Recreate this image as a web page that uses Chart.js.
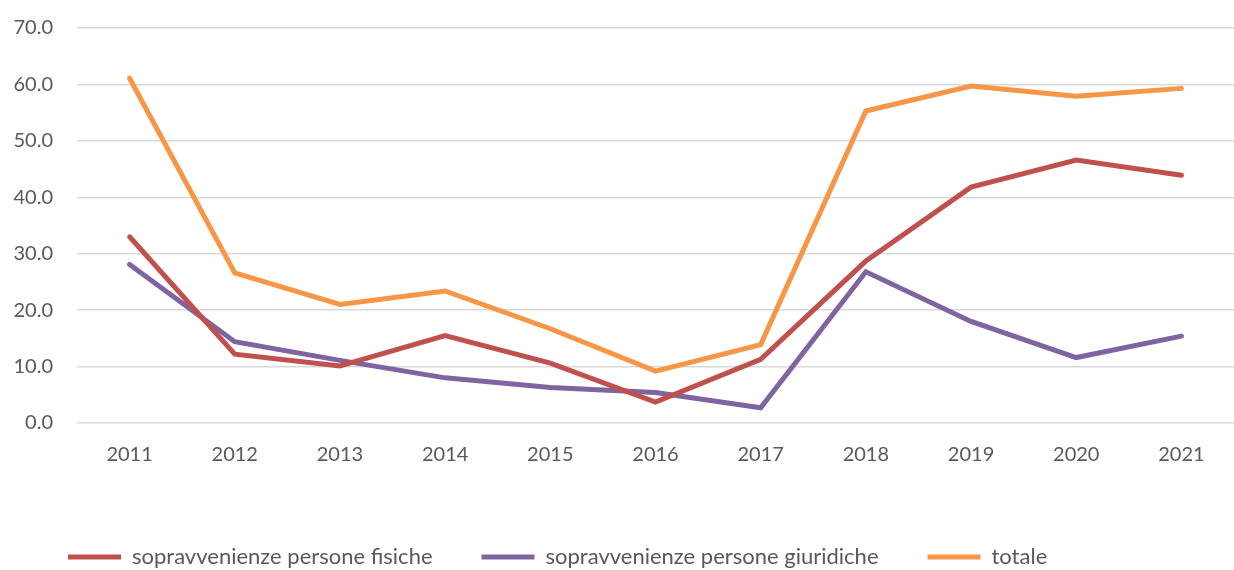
<!DOCTYPE html>
<html>
<head>
<meta charset="utf-8">
<script src="https://cdn.jsdelivr.net/npm/chart.js@4/dist/chart.umd.min.js"></script>
<style>
  html, body { margin: 0; padding: 0; background: #fff; }
  #wrap { width: 1234px; height: 570px; }
</style>
</head>
<body>
<div id="wrap"><canvas id="chart"></canvas></div>
<script>
// anni e serie
const years = ["2011","2012","2013","2014","2015","2016","2017","2018","2019","2020","2021"];
const fisiche = [33.0, 12.2, 10.1, 15.5, 10.6, 3.7, 11.3, 28.7, 41.8, 46.6, 43.9];
const giuridiche = [28.1, 14.4, 11.1, 8.0, 6.3, 5.4, 2.7, 26.8, 18.0, 11.6, 15.4];
const totale = [61.1, 26.6, 21.0, 23.4, 16.7, 9.2, 13.9, 55.3, 59.7, 57.9, 59.3];

const txt = "#595959";
const font = { family: "Lato, 'Open Sans', sans-serif", size: 20 };
const legendFont = { family: "Lato, 'Open Sans', sans-serif", size: 22 };

function serie(label, data, color) {
  return {
    label, data,
    borderColor: color,
    backgroundColor: color,
    borderWidth: 5,
    pointRadius: 0,
    tension: 0,
    borderCapStyle: "round",
    borderJoinStyle: "miter"
  };
}

new Chart(document.getElementById("chart"), {
  type: "line",
  data: {
    labels: years,
    datasets: [
      serie("sopravvenienze persone fisiche", fisiche, "#C0504D"),
      serie("sopravvenienze persone giuridiche", giuridiche, "#8064A2"),
      serie("totale", totale, "#F79646")
    ]
  },
  options: {
    responsive: true,
    maintainAspectRatio: false,
    animation: false,
    layout: { padding: { top: 28, right: 0, left: 0, bottom: 0 } },
    plugins: {
      tooltip: { enabled: false },
      legend: {
        position: "bottom",
        align: "start",
        labels: {
          color: txt,
          font: legendFont,
          boxWidth: 53,
          boxHeight: 5,
          padding: 49,
          generateLabels(chart) {
            return chart.data.datasets.map((ds, i) => ({
              text: ds.label,
              fillStyle: ds.borderColor,
              strokeStyle: ds.borderColor,
              lineWidth: 0,
              fontColor: txt,
              datasetIndex: i
            }));
          }
        },
        onClick: null
      }
    },
    scales: {
      x: {
        offset: true,
        grid: { display: false, drawTicks: false },
        border: { display: false },
        ticks: { color: txt, font, padding: 20, maxRotation: 0 },
        afterFit(scale) { scale.height = 74; scale.paddingLeft = 0; scale.paddingRight = 0; }
      },
      y: {
        min: 0, max: 70,
        grid: { color: "#d9d9d9", lineWidth: 1.5, drawTicks: false },
        border: { display: false },
        ticks: {
          stepSize: 10,
          color: txt,
          font,
          padding: 24,
          callback: v => v.toFixed(1)
        },
        afterFit(scale) { scale.width = 77; scale.paddingTop = 0; scale.paddingBottom = 0; }
      }
    }
  },
  plugins: [{
    // legenda: altezza fissa e leggero spostamento a destra
    id: "legendPos",
    beforeInit(chart) {
      const lg = chart.legend;
      const fit = lg.fit;
      lg.fit = function () {
        fit.call(this);
        this.height = 73;
      };
    },
    afterLayout(chart) {
      chart.legend.left += 19;
      chart.legend.right += 19;
    }
  }]
});
</script>
</body>
</html>
